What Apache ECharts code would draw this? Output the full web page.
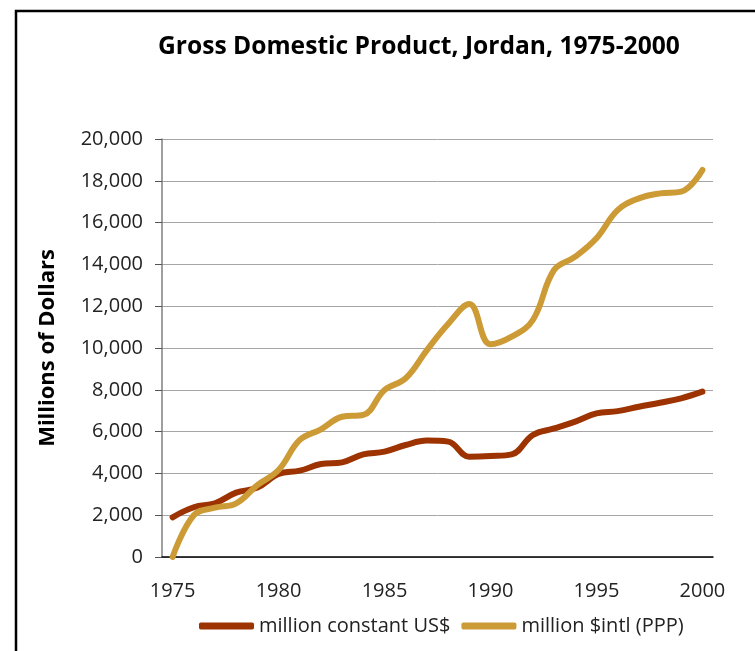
<!DOCTYPE html>
<html>
<head>
<meta charset="utf-8">
<script src="https://cdn.jsdelivr.net/npm/echarts@6/dist/echarts.min.js"></script>
<style>
  html, body { margin: 0; padding: 0; background: #fff; }
  #chart { width: 755px; height: 651px; }
</style>
</head>
<body>
<div id="chart"></div>
<script>
// years on the x axis
var years = ['1975', '1976', '1977', '1978', '1979', '1980', '1981', '1982', '1983', '1984',
  '1985', '1986', '1987', '1988', '1989', '1990', '1991', '1992', '1993', '1994',
  '1995', '1996', '1997', '1998', '1999', '2000']

// million constant US$
var constantUsd = [1900, 2380, 2570, 3080, 3320, 3970, 4130, 4450, 4530, 4910,
  5040, 5360, 5570, 5520, 4800, 4830, 4910, 5840, 6150, 6480,
  6870, 6980, 7190, 7380, 7590, 7910]

// million $intl (PPP)
var intlPpp = [0, 2000, 2360, 2570, 3440, 4160, 5600, 6110, 6710, 6800,
  7990, 8550, 9900, 11150, 12100, 10180, 10540, 11340, 13730, 14370,
  15250, 16600, 17160, 17400, 17480, 18520]

var yTicks = [0, 2000, 4000, 6000, 8000, 10000, 12000, 14000, 16000, 18000, 20000]

var font = '"Open Sans", "DejaVu Sans", sans-serif'

var myChart = echarts.init(document.getElementById('chart'))
myChart.setOption({
  animation: false,
  textStyle: { fontFamily: font },
  title: {
    text: 'Gross Domestic Product, Jordan, 1975-2000',
    left: 153,
    top: 29,
    textStyle: { fontSize: 24.6, fontWeight: 'bold', color: '#000', fontFamily: font }
  },
  graphic: [{
    type: 'rect',
    shape: { x: 16, y: 11, width: 800, height: 700 },
    style: { fill: 'none', stroke: '#000', lineWidth: 2.5 },
    silent: true
  }],
  legend: {
    left: 194,
    top: 611,
    itemWidth: 55,
    itemHeight: 7,
    itemGap: 11,
    icon: 'roundRect',
    textStyle: { fontSize: 20, color: '#222' },
    data: ['million constant US$', 'million $intl (PPP)']
  },
  grid: {
    left: 162,
    right: 42,
    top: 139,
    bottom: 94
  },
  xAxis: {
    type: 'category',
    data: years,
    boundaryGap: true,
    axisLine: { lineStyle: { color: '#000', width: 1.5 } },
    axisTick: { show: false },
    axisLabel: {
      interval: 4,
      margin: 24,
      fontSize: 20,
      color: '#222'
    },
    splitLine: { show: false }
  },
  yAxis: {
    type: 'value',
    min: yTicks[0],
    max: yTicks[yTicks.length - 1],
    interval: 2000,
    name: 'Millions of Dollars',
    nameLocation: 'middle',
    nameRotate: 90,
    nameGap: 103,
    nameTextStyle: { fontSize: 22, fontWeight: 'bold', color: '#000' },
    axisLine: { show: true, lineStyle: { color: '#7f7f7f', width: 1.5 } },
    axisTick: { show: true, length: 7, lineStyle: { color: '#555' } },
    axisLabel: {
      margin: 19,
      fontSize: 20,
      color: '#222',
      formatter: function (v) { return v.toLocaleString('en-US') }
    },
    splitLine: { lineStyle: { color: '#a6a6a6', width: 1 } }
  },
  series: [
    {
      name: 'million constant US$',
      type: 'line',
      data: constantUsd,
      smooth: 0.4,
      showSymbol: false,
      itemStyle: { color: '#9c3300' },
      lineStyle: { width: 6, cap: 'round', join: 'round' }
    },
    {
      name: 'million $intl (PPP)',
      type: 'line',
      data: intlPpp,
      smooth: 0.4,
      showSymbol: false,
      itemStyle: { color: '#cd9b35' },
      lineStyle: { width: 6, cap: 'round', join: 'round' }
    }
  ]
})
</script>
</body>
</html>
